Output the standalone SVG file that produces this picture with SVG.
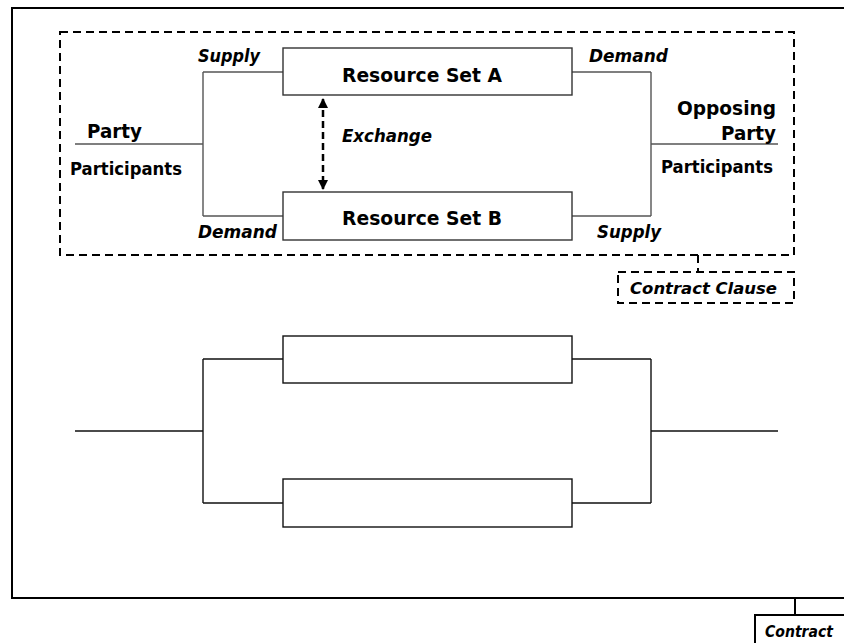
<svg xmlns="http://www.w3.org/2000/svg" width="844" height="643" viewBox="0 0 844 643">
  <style>
    .frame { fill: none; stroke: #000; stroke-width: 2; }
    .dash { fill: none; stroke: #000; stroke-width: 2; stroke-dasharray: 8 5; }
    .box { fill: #fff; stroke: #333; stroke-width: 1.4; }
    .wire { fill: none; stroke: #555; stroke-width: 1.4; }
    .wire2 { fill: none; stroke: #111; stroke-width: 1.4; }
    .t { font-family: "DejaVu Sans", Verdana, sans-serif; font-weight: bold; fill: #000; }
    .big { font-size: 20px; }
    .mid { font-size: 17.5px; }
    .it { font-family: "DejaVu Sans", Verdana, sans-serif; font-weight: bold; font-style: italic; font-size: 17px; fill: #000; }
  </style>
  <defs>
    <marker id="ah" viewBox="0 0 10 10" refX="9" refY="5" markerWidth="4" markerHeight="4" orient="auto-start-reverse">
      <path d="M0,0 L10,5 L0,10 z" fill="#000"/>
    </marker>
  </defs>

  <rect width="844" height="643" fill="#fff"/>

  <!-- contract frame, open to the right -->
  <g id="contract">
    <path class="frame" d="M850,8 H12 V598 H850"/>
    <line class="frame" x1="795" y1="598" x2="795" y2="615"/>
    <path class="frame" d="M850,615 H755 V650"/>
    <text class="it" x="765" y="637" style="font-size:16px" textLength="68" lengthAdjust="spacingAndGlyphs">Contract</text>
  </g>

  <!-- clause frame -->
  <g id="clause">
    <rect class="dash" x="60" y="32" width="734" height="223"/>
    <line class="dash" x1="698" y1="255" x2="698" y2="272"/>
    <rect class="dash" x="618" y="272" width="176" height="31"/>
    <text class="it" x="630" y="294" style="font-size:16px" textLength="147" lengthAdjust="spacingAndGlyphs">Contract Clause</text>
  </g>

  <!-- connectors -->
  <g id="connectors">
    <path class="wire" d="M75,144 H203 M203,72 V216 M203,72 H283 M203,216 H283"/>
    <path class="wire" d="M572,72 H651 M572,216 H651 M651,72 V216 M651,144 H778"/>
    <line x1="323" y1="99" x2="323" y2="189" stroke="#000" stroke-width="2.5" stroke-dasharray="7 4" marker-start="url(#ah)" marker-end="url(#ah)"/>
    <path class="wire2" d="M75,431 H203 M203,359 V503 M203,359 H283 M203,503 H283"/>
    <path class="wire2" d="M572,359 H651 M572,503 H651 M651,359 V503 M651,431 H778"/>
  </g>

  <g id="resource-a">
    <rect class="box" x="283" y="48" width="289" height="47"/>
    <text class="t big" x="342" y="82" textLength="160" lengthAdjust="spacingAndGlyphs">Resource Set A</text>
  </g>
  <g id="resource-b">
    <rect class="box" x="283" y="192" width="289" height="48"/>
    <text class="t big" x="342" y="225" textLength="160" lengthAdjust="spacingAndGlyphs">Resource Set B</text>
  </g>
  <g id="blank-a">
    <rect class="box" x="283" y="336" width="289" height="47" style="stroke:#111"/>
  </g>
  <g id="blank-b">
    <rect class="box" x="283" y="479" width="289" height="48" style="stroke:#111"/>
  </g>

  <g id="party">
    <text class="t big" x="87" y="138" textLength="55" lengthAdjust="spacingAndGlyphs">Party</text>
    <text class="t mid" x="70" y="175" textLength="112" lengthAdjust="spacingAndGlyphs">Participants</text>
  </g>
  <g id="opposing-party">
    <text class="t big" x="677" y="115" textLength="99" lengthAdjust="spacingAndGlyphs">Opposing</text>
    <text class="t big" x="721" y="140" textLength="55" lengthAdjust="spacingAndGlyphs">Party</text>
    <text class="t mid" x="661" y="173" textLength="112" lengthAdjust="spacingAndGlyphs">Participants</text>
  </g>

  <g id="labels">
    <text class="it" x="198" y="62" textLength="62" lengthAdjust="spacingAndGlyphs">Supply</text>
    <text class="it" x="198" y="238" textLength="79" lengthAdjust="spacingAndGlyphs">Demand</text>
    <text class="it" x="589" y="62" textLength="79" lengthAdjust="spacingAndGlyphs">Demand</text>
    <text class="it" x="597" y="238" textLength="64" lengthAdjust="spacingAndGlyphs">Supply</text>
    <text class="it" x="342" y="142" textLength="90" lengthAdjust="spacingAndGlyphs">Exchange</text>
  </g>
</svg>
